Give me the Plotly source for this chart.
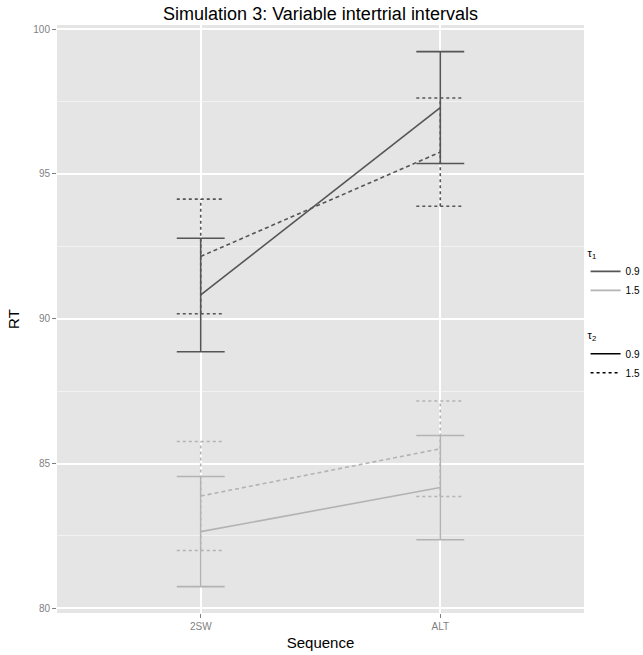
import plotly.graph_objects as go

categories = ["2SW", "ALT"]
tau1_levels = ["0.9", "1.5"]
tau2_levels = ["0.9", "1.5"]

# series: (tau1, tau2) -> means and standard errors per category
mean_t1_09_t2_09 = [90.82, 97.29]
se_t1_09_t2_09 = [1.96, 1.93]
mean_t1_09_t2_15 = [92.15, 95.75]
se_t1_09_t2_15 = [1.98, 1.87]
mean_t1_15_t2_09 = [82.65, 84.17]
se_t1_15_t2_09 = [1.90, 1.80]
mean_t1_15_t2_15 = [83.88, 85.51]
se_t1_15_t2_15 = [1.88, 1.65]

y_ticks = [80, 85, 90, 95, 100]

DARK = "#555555"
LIGHT = "#b3b3b3"
CAP = 0.1  # half cap width in category units

series = [
    (mean_t1_09_t2_09, se_t1_09_t2_09, DARK, "solid"),
    (mean_t1_09_t2_15, se_t1_09_t2_15, DARK, "3px,3px"),
    (mean_t1_15_t2_09, se_t1_15_t2_09, LIGHT, "solid"),
    (mean_t1_15_t2_15, se_t1_15_t2_15, LIGHT, "3px,3px"),
]

xpos = list(range(len(categories)))
fig = go.Figure()

for means, ses, col, dash in series:
    ex, ey = [], []
    for xi, m, s in zip(xpos, means, ses):
        lo, hi = m - s, m + s
        ex += [xi, xi, None, xi - CAP, xi + CAP, None, xi - CAP, xi + CAP, None]
        ey += [lo, hi, None, hi, hi, None, lo, lo, None]
    fig.add_trace(go.Scatter(x=ex, y=ey, mode="lines",
                             line=dict(color=col, width=1.6, dash=dash),
                             showlegend=False, hoverinfo="skip"))
    fig.add_trace(go.Scatter(x=xpos, y=means, mode="lines",
                             line=dict(color=col, width=1.6,
                                       dash="4px,3px" if dash != "solid" else "solid"),
                             showlegend=False))

# legend entries
for lvl, col in zip(tau1_levels, [DARK, LIGHT]):
    fig.add_trace(go.Scatter(x=[None], y=[None], mode="lines", name=lvl,
                             line=dict(color=col, width=1.6), legend="legend"))
for lvl, dash in zip(tau2_levels, ["solid", "3px,3px"]):
    fig.add_trace(go.Scatter(x=[None], y=[None], mode="lines", name=lvl,
                             line=dict(color="black", width=1.6, dash=dash), legend="legend2"))

font = "Liberation Sans, Arial, sans-serif"
fig.update_layout(
    width=643, height=655,
    margin=dict(l=57, r=59, t=25, b=42, autoexpand=False),
    paper_bgcolor="white",
    plot_bgcolor="#e5e5e5",
    font=dict(family=font, color="black"),
    title=dict(text="Simulation 3: Variable intertrial intervals", x=0.5, xref="paper",
               xanchor="center", y=0.988, yanchor="top",
               font=dict(size=18, family=font, color="black")),
    xaxis=dict(range=[-0.6, 1.6], tickvals=xpos, ticktext=categories,
               showgrid=True, gridcolor="white", gridwidth=1.8,
               zeroline=False, ticks="outside", ticklen=4, tickcolor="#7f7f7f",
               tickfont=dict(size=10, color="#7f7f7f"),
               title=dict(text="Sequence", font=dict(size=15), standoff=6)),
    yaxis=dict(range=[79.84, 100.14], tickvals=y_ticks,
               showgrid=True, gridcolor="white", gridwidth=1.8,
               minor=dict(dtick=2.5, tick0=80, showgrid=True, gridcolor="#f2f2f2", gridwidth=1),
               zeroline=False, ticks="outside", ticklen=4, tickcolor="#7f7f7f",
               tickfont=dict(size=10, color="#7f7f7f"),
               title=dict(text="RT", font=dict(size=15), standoff=10)),
    legend=dict(title=dict(text="τ<sub>1</sub>", font=dict(size=11)),
                x=1.003, xanchor="left", y=0.63, yanchor="top",
                font=dict(size=10), itemwidth=30, bgcolor="rgba(0,0,0,0)"),
    legend2=dict(title=dict(text="τ<sub>2</sub>", font=dict(size=11)),
                 x=1.003, xanchor="left", y=0.49, yanchor="top",
                 font=dict(size=10), itemwidth=30, bgcolor="rgba(0,0,0,0)"),
)

fig.write_html("out.html")
